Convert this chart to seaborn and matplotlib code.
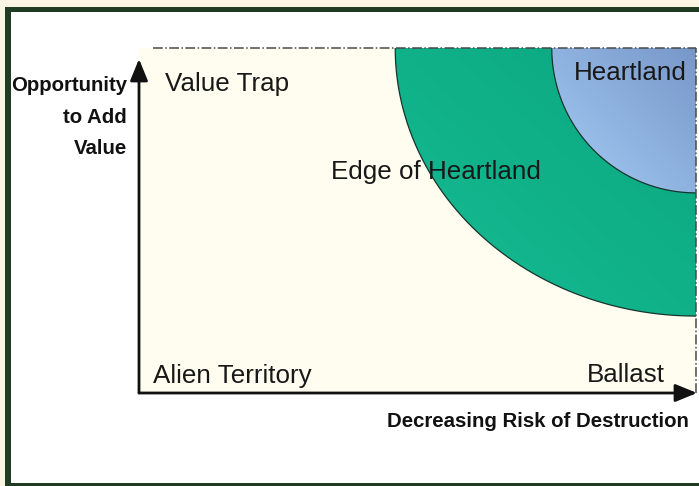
import numpy as np
import matplotlib
matplotlib.use("Agg")
import matplotlib.pyplot as plt
import seaborn as sns
from matplotlib.patches import Rectangle, Polygon
from matplotlib.colors import LinearSegmentedColormap

# zones: quarter ellipses from the top-right corner (radii as share of the box)
zone_names = ["Edge of Heartland", "Heartland"]
zone_rx = [0.540, 0.259]
zone_ry = [0.777, 0.420]
zone_light = ["#16bc93", "#a6cdf5"]
zone_dark = ["#0aa67f", "#7797c9"]

corner_labels = ["Value Trap", "Alien Territory", "Ballast"]
x_title = "Decreasing Risk of Destruction"
y_title = ["Opportunity", "to Add", "Value"]

W, H = 699, 486


def px(x, y):
    # pixel position -> figure fraction
    return x / W, 1 - y / H


sns.set_theme(style="white")
plt.rcParams["font.family"] = ["Liberation Sans", "DejaVu Sans"]

fig = plt.figure(figsize=(W / 100, H / 100), dpi=100)
fig.patch.set_facecolor("#faf4e4")

# dark green frame with white inside
fig.add_artist(Rectangle((5 / W, -0.1), 1, 1.1 - 7 / H, transform=fig.transFigure,
                         facecolor="#1f3b21", edgecolor="none", zorder=-5))
fig.add_artist(Rectangle(px(11, 483), 1, (483 - 12) / H, transform=fig.transFigure,
                         facecolor="white", edgecolor="none", zorder=-4))

ax = fig.add_axes([139 / W, 1 - 393 / H, 557 / W, 345 / H])
ax.set_facecolor("#fefdef")
for s in ax.spines.values():
    s.set_visible(False)

t = np.linspace(np.pi, 1.5 * np.pi, 300)
gx, gy = np.meshgrid(np.linspace(0, 1, 200), np.linspace(0, 1, 200))
grad = (gx + gy) / 2

for name, rx, ry, c0, c1 in zip(zone_names, zone_rx, zone_ry, zone_light, zone_dark):
    ax_x = 1 + rx * np.cos(t)
    ax_y = 1 + ry * np.sin(t)
    poly = Polygon(np.c_[np.r_[1, ax_x], np.r_[1, ax_y]], closed=True,
                   facecolor="none", edgecolor="none")
    ax.add_patch(poly)
    cmap = LinearSegmentedColormap.from_list(name, [c0, c1])
    im = ax.imshow(grad, extent=(1 - rx, 1, 1 - ry, 1), origin="lower",
                   cmap=cmap, aspect="auto", zorder=1)
    im.set_clip_path(poly)
    sns.lineplot(x=ax_x, y=ax_y, sort=False, color="#17352c", lw=0.9, ax=ax, zorder=2)

ax.set_xlim(0, 1)
ax.set_ylim(0, 1)
ax.set_xticks([])
ax.set_yticks([])

# dash-dot box edges (top and right)
ax.plot([0.025, 1], [1, 1], ls="-.", color="#4a4a4a", lw=1.1, clip_on=False, zorder=3)
ax.plot([1, 1], [0, 1], ls="-.", color="#4a4a4a", lw=1.1, clip_on=False, zorder=3)

# axis arrows
arrow = dict(arrowstyle="-|>,head_length=1.1,head_width=0.45", color="#111111",
             lw=2, mutation_scale=12, shrinkA=0, shrinkB=0)
ax.annotate("", xy=(0, (393 - 59) / 345), xytext=(0, 0), xycoords="axes fraction",
            arrowprops=arrow, annotation_clip=False)
ax.annotate("", xy=((697 - 139) / 557, 0), xytext=(0, 0), xycoords="axes fraction",
            arrowprops=arrow, annotation_clip=False)

# region labels
lab = dict(fontsize=18.7, color="#181818", va="baseline", ha="left")
fig.text(*px(165, 91), corner_labels[0], **lab)
fig.text(*px(153, 383), corner_labels[1], **lab)
fig.text(*px(587, 382), corner_labels[2], **lab)
fig.text(*px(331, 179), zone_names[0], **lab)
fig.text(*px(574, 80), zone_names[1], **lab)

# axis titles
ttl = dict(fontsize=14.7, fontweight="bold", color="#111111", va="baseline", ha="right")
for line, base in zip(y_title, [91, 123, 154]):
    fig.text(*px(127, base), line, **ttl)
fig.text(*px(689, 427), x_title, **ttl)

fig.savefig("out.png", dpi=100)
